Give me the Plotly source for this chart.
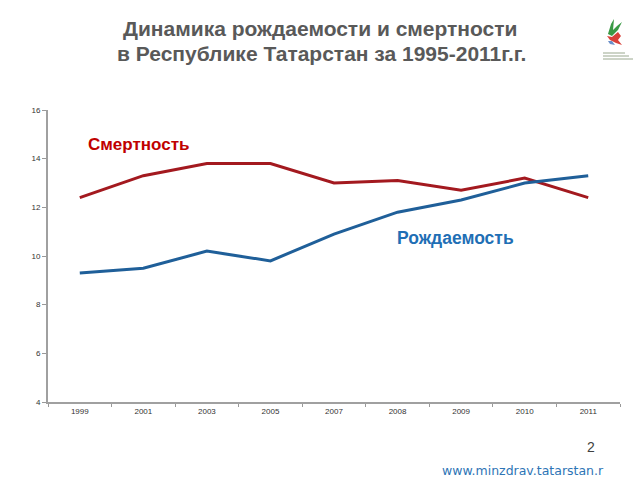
import plotly.graph_objects as go

years = ["1999", "2001", "2003", "2005", "2007", "2008", "2009", "2010", "2011"]
mortality = [12.4, 13.3, 13.8, 13.8, 13.0, 13.1, 12.7, 13.2, 12.4]
birth = [9.3, 9.5, 10.2, 9.8, 10.9, 11.8, 12.3, 13.0, 13.3]
y_ticks = [4, 6, 8, 10, 12, 14, 16]

fig = go.Figure()
fig.add_trace(go.Scatter(x=years, y=mortality, mode="lines",
                         line=dict(color="#a3191f", width=3), name="Смертность"))
fig.add_trace(go.Scatter(x=years, y=birth, mode="lines",
                         line=dict(color="#1f5f99", width=3), name="Рождаемость"))

W, H = 640, 480
L, R, T, B = 48, 20, 110, 78
pw, ph = W - L - R, H - T - B
def px(x): return (x - L) / pw
def py(y): return (H - B - y) / ph

fig.update_layout(
    width=W, height=H,
    margin=dict(l=L, r=R, t=T, b=B),
    paper_bgcolor="white", plot_bgcolor="white",
    showlegend=False,
    font=dict(family="Liberation Sans, Arial, sans-serif"),
)
fig.update_xaxes(type="category", range=[-0.5, len(years) - 0.5],
                 tickson="boundaries", ticks="outside", ticklen=3,
                 tickcolor="#999", showline=True, linecolor="#a0a0a0", linewidth=2,
                 showgrid=False, tickfont=dict(size=8, color="#333"))
fig.update_yaxes(range=[4, 16], tickvals=y_ticks, ticks="outside", ticklen=4,
                 tickcolor="#999", showline=True, linecolor="#a0a0a0", linewidth=2,
                 showgrid=False, zeroline=False, tickfont=dict(size=8, color="#333"))

fig.add_annotation(xref="paper", yref="paper", x=px(320), y=py(28),
                   text="<b>Динамика рождаемости и смертности</b>",
                   showarrow=False, font=dict(size=21, color="#595959"),
                   xanchor="center", yanchor="middle")
fig.add_annotation(xref="paper", yref="paper", x=px(321), y=py(54),
                   text="<b>в Республике Татарстан за 1995-2011г.г.</b>",
                   showarrow=False, font=dict(size=21, color="#595959"),
                   xanchor="center", yanchor="middle")
fig.add_annotation(xref="paper", yref="paper", x=px(138), y=py(144),
                   text="<b>Смертность</b>", showarrow=False,
                   xanchor="center", yanchor="middle",
                   font=dict(size=17, color="#c00000"))
fig.add_annotation(xref="paper", yref="paper", x=px(455), y=py(238),
                   text="<b>Рождаемость</b>", showarrow=False,
                   xanchor="center", yanchor="middle",
                   font=dict(size=17.5, color="#1f6fb5"))
fig.add_annotation(xref="paper", yref="paper", x=px(591), y=py(447),
                   text="2", showarrow=False, xanchor="center", yanchor="middle",
                   font=dict(size=14, color="#404040"))
fig.add_annotation(xref="paper", yref="paper", x=px(523), y=py(470),
                   text="www.minzdrav.tatarstan.r", showarrow=False,
                   xanchor="center", yanchor="middle",
                   font=dict(size=12.5, color="#2e75b6", family="DejaVu Sans"))

# small logo approximation (top right)
def path(pts):
    return "M " + " L ".join(f"{px(a):.4f},{py(b):.4f}" for a, b in pts) + " Z"

logo = [
    ([(608, 34), (611, 24), (614, 19), (613, 30), (617, 26), (622, 22), (618, 30), (612, 36)], "#3a9a45"),
    ([(607, 36), (612, 37), (618, 32), (621, 36), (618, 40), (622, 45), (616, 43), (610, 40)], "#d9413a"),
    ([(608, 41), (612, 41), (615, 45), (610, 44)], "#6a8fc9"),
]
shapes = []
for pts, col in logo:
    shapes.append(dict(type="path", xref="paper", yref="paper", path=path(pts),
                       fillcolor=col, line=dict(width=0), layer="above"))
for yy, x0, x1 in [(53, 603, 625), (56, 603, 629), (59, 603, 633)]:
    shapes.append(dict(type="line", xref="paper", yref="paper",
                       x0=px(x0), x1=px(x1), y0=py(yy), y1=py(yy),
                       line=dict(color="#9aa88f", width=1)))
fig.update_layout(shapes=shapes)

fig.write_html("out.html", post_script="document.body.style.margin='0';",
               config={"displayModeBar": False})
